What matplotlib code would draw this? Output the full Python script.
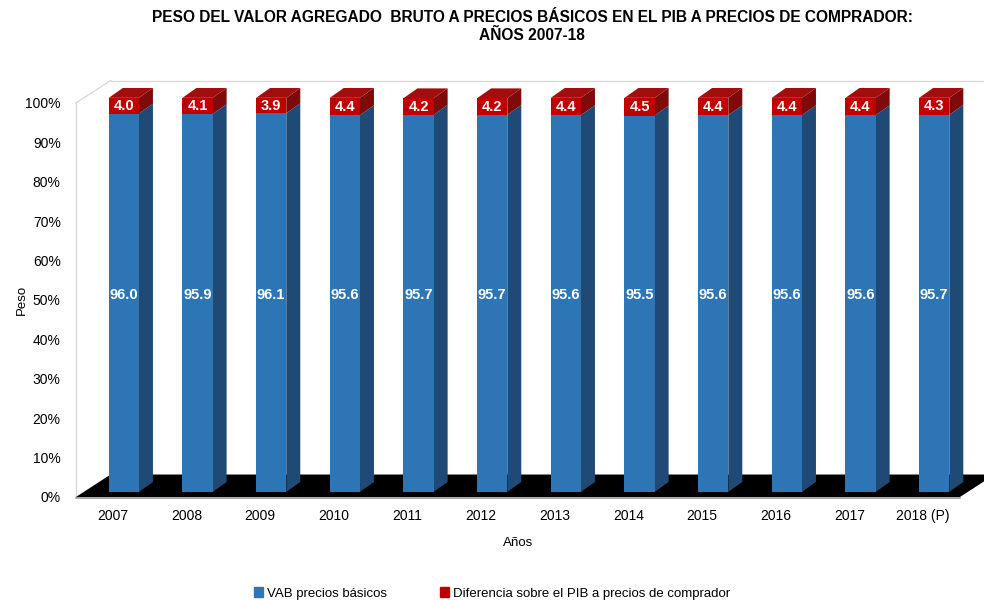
import matplotlib.pyplot as plt
from matplotlib.patches import Polygon, Patch
import numpy as np

plt.rcParams['font.family'] = ['Liberation Sans', 'DejaVu Sans']

years = ['2007', '2008', '2009', '2010', '2011', '2012', '2013', '2014', '2015', '2016', '2017', '2018 (P)']
vab = [96.0, 95.9, 96.1, 95.6, 95.7, 95.7, 95.6, 95.5, 95.6, 95.6, 95.6, 95.7]
dif = [4.0, 4.1, 3.9, 4.4, 4.2, 4.2, 4.4, 4.5, 4.4, 4.4, 4.4, 4.3]
yticks = [0, 10, 20, 30, 40, 50, 60, 70, 80, 90, 100]

blue, blue_side = '#2E75B6', '#1F4A75'
red, red_side, red_top = '#C00000', '#7E0A0A', '#A00E0E'

fig = plt.figure(figsize=(9.84, 6.0), dpi=100)
ax = fig.add_axes([0.0772, 0.1717, 0.8984, 0.6567])
ax.set_xlim(-0.5, 11.5)
ax.set_ylim(0, 100)

# pseudo 3D offsets (data units)
Dx, Dy = 0.47, 5.7        # wall / floor depth
fx, fy = 0.15, 1.3        # bar front face offset
bx, by = 0.19, 2.5        # bar depth
w = 0.41

x = np.arange(len(years))

# walls
wall = '#D9D9D9'
ax.plot([-0.5, -0.5], [0, 100], color=wall, lw=1, clip_on=False, zorder=1)
ax.plot([-0.5, -0.5 + Dx], [100, 100 + Dy], color=wall, lw=1, clip_on=False, zorder=1)
ax.plot([-0.5 + Dx, 12.5], [100 + Dy, 100 + Dy], color=wall, lw=1, clip_on=False, zorder=1)

# floor
floor = Polygon([(-0.5, 0), (11.5, 0), (11.5 + Dx, Dy), (-0.5 + Dx, Dy)],
                closed=True, facecolor='black', edgecolor='none', clip_on=False, zorder=2)
ax.add_patch(floor)
ax.plot([-0.5, 11.5], [-0.2, -0.2], color='#9A9A9A', lw=1.2, clip_on=False, zorder=2)

for i in x:
    xl = i - w / 2 + fx
    xr = i + w / 2 + fx
    b0 = fy
    b1 = fy + vab[i]
    b2 = fy + vab[i] + dif[i]
    ax.add_patch(Polygon([(xr, b0), (xr + bx, b0 + by), (xr + bx, b1 + by), (xr, b1)],
                         facecolor=blue_side, edgecolor='none', zorder=3, clip_on=False))
    ax.add_patch(Polygon([(xr, b1), (xr + bx, b1 + by), (xr + bx, b2 + by), (xr, b2)],
                         facecolor=red_side, edgecolor='none', zorder=3, clip_on=False))
    ax.add_patch(Polygon([(xl, b2), (xr, b2), (xr + bx, b2 + by), (xl + bx, b2 + by)],
                         facecolor=red_top, edgecolor='none', zorder=3, clip_on=False))

ax.bar(x + fx, vab, width=w, bottom=fy, color=blue, zorder=4, clip_on=False)
ax.bar(x + fx, dif, width=w, bottom=[fy + v for v in vab], color=red, zorder=4, clip_on=False)

for i in x:
    ax.text(i + fx, fy + 50, f'{vab[i]:.1f}', ha='center', va='center', color='white',
            fontsize=10.5, fontweight='bold', zorder=5)
    ax.text(i + fx, fy + vab[i] + dif[i] / 2, f'{dif[i]:.1f}', ha='center', va='center',
            color='white', fontsize=10.5, fontweight='bold', zorder=5)

for s in ax.spines.values():
    s.set_visible(False)
ax.set_xticks(x)
ax.set_xticklabels(years, fontsize=10)
ax.set_yticks(yticks)
ax.set_yticklabels([f'{t}%' for t in yticks], fontsize=10)
ax.tick_params(length=0)
ax.tick_params(axis='x', pad=9)
ax.tick_params(axis='y', pad=11)
ax.set_xlabel('Años', fontsize=9.5, labelpad=10)
ax.set_ylabel('Peso', fontsize=9.5, labelpad=-2)

fig.text(0.541, 0.956, 'PESO DEL VALOR AGREGADO  BRUTO A PRECIOS BÁSICOS EN EL PIB A PRECIOS DE COMPRADOR:\nAÑOS 2007-18',
         ha='center', va='center', fontsize=11.2, fontweight='bold', linespacing=1.2)

handles = [Patch(color=blue), Patch(color=red)]
fig.legend(handles, ['VAB precios básicos', 'Diferencia sobre el PIB a precios de comprador'],
           loc='center', bbox_to_anchor=(0.5, 0.011), ncol=2, frameon=False, fontsize=9.5,
           handlelength=0.7, handleheight=0.7, handletextpad=0.3, columnspacing=4.0)

fig.savefig('out.png', dpi=100)
